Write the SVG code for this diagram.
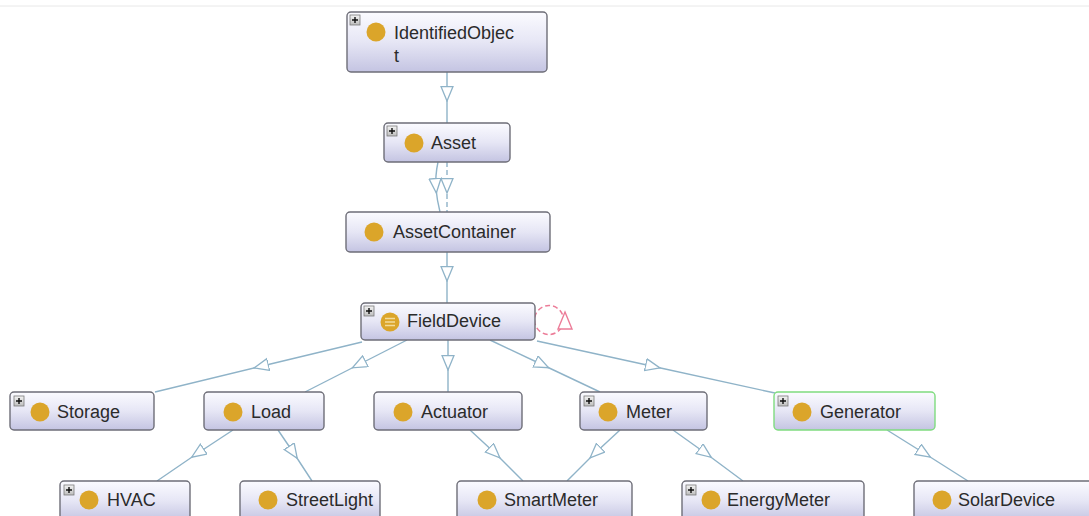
<svg xmlns="http://www.w3.org/2000/svg" xmlns:xlink="http://www.w3.org/1999/xlink" width="1089" height="516" viewBox="0 0 1089 516">
<defs>
<linearGradient id="boxg" x1="0" y1="0" x2="0" y2="1">
<stop offset="0" stop-color="#fbfbff"/>
<stop offset="0.5" stop-color="#e6e6f5"/>
<stop offset="1" stop-color="#c4c4e2"/>
</linearGradient>
<linearGradient id="plusg" x1="0" y1="0" x2="0" y2="1">
<stop offset="0" stop-color="#f4f4f4"/>
<stop offset="1" stop-color="#bdbdbd"/>
</linearGradient>
<marker id="tri" markerUnits="userSpaceOnUse" markerWidth="16" markerHeight="14" refX="11" refY="6.5" orient="auto">
<path d="M0.5,0.5 L15,6.5 L0.5,12.5 z" fill="#ffffff" stroke="#8fb3c8" stroke-width="1.3"/>
</marker>
<g id="plus">
<rect x="0" y="0" width="10" height="10" fill="url(#plusg)" stroke="#7a7a7a" stroke-width="0.8"/>
<path d="M5,2 V8 M2,5 H8" stroke="#111" stroke-width="1.4"/>
</g>
</defs>
<style>
.box{fill:url(#boxg);stroke:#6e6e78;stroke-width:1.4}
.gen{stroke:#7fdc7f}
.dot{fill:#dba52a}
.lbl{font-family:"Liberation Sans",Arial,sans-serif;font-size:18px;fill:#2b2b2b;dominant-baseline:central}
.edge{fill:none;stroke:#8fb3c8;stroke-width:1.4;marker-mid:url(#tri)}
.dash{stroke-dasharray:5,3}
.loop{fill:none;stroke:#ec7c98;stroke-width:1.5;stroke-dasharray:5,3}
</style>
<rect width="1089" height="516" fill="#ffffff"/>
<line x1="0" y1="6" x2="1089" y2="6" stroke="#e8e8e8" stroke-width="1"/>

<g id="connectors">
<path class="edge" d="M447,72 L447,97 L447,123"/>
<path class="edge" d="M438,162 Q435,176 436,189 Q437,200 440,212"/>
<path class="edge dash" d="M447,162 L447,189 L447,212"/>
<path class="edge" d="M447,252 L447,277 L447,303"/>
<path class="edge" d="M362,342 L258,367 L155,392"/>
<path class="edge" d="M407,340 L356,366 L305,392"/>
<path class="edge" d="M448,340 L448,366 L448,392"/>
<path class="edge" d="M490,340 L545,366 L600,392"/>
<path class="edge" d="M537,341 L656,367 L775,393"/>
<path class="edge" d="M233,430 L195,455 L157,481"/>
<path class="edge" d="M278,430 L295,455 L312,481"/>
<path class="edge" d="M470,430 L497,455 L523,481"/>
<path class="edge" d="M620,430 L593,455 L567,481"/>
<path class="edge" d="M673,430 L708,455 L743,481"/>
<path class="edge" d="M887,430 L927,455 L968,481"/>
<circle class="loop" cx="549" cy="320" r="14.5"/>
<path d="M565,312 L572,329 L558,329 z" fill="#ffffff" stroke="#ec7c98" stroke-width="1.4"/>
</g>

<g id="IdentifiedObject">
<rect class="box" x="347" y="12" width="200" height="60" rx="4"/>
<use xlink:href="#plus" x="350" y="15"/>
<circle class="dot" cx="376" cy="32" r="9.5"/>
<text class="lbl" x="394" y="33">IdentifiedObjec</text>
<text class="lbl" x="394" y="56">t</text>
</g>
<g id="Asset">
<rect class="box" x="384" y="123" width="126" height="39" rx="4"/>
<use xlink:href="#plus" x="387" y="126"/>
<circle class="dot" cx="414" cy="143" r="9.5"/>
<text class="lbl" x="431" y="143">Asset</text>
</g>
<g id="AssetContainer">
<rect class="box" x="346" y="212" width="204" height="40" rx="4"/>
<circle class="dot" cx="374" cy="232" r="9.5"/>
<text class="lbl" x="393" y="232">AssetContainer</text>
</g>
<g id="FieldDevice">
<rect class="box" x="361" y="303" width="174" height="37" rx="4"/>
<use xlink:href="#plus" x="364" y="306"/>
<circle class="dot" cx="390" cy="322" r="9.5"/>
<path d="M385,318.5 H395 M385,322 H395 M385,325.5 H395" stroke="#f3dc9a" stroke-width="1.4"/>
<text class="lbl" x="407" y="321">FieldDevice</text>
</g>
<g id="Storage">
<rect class="box" x="10" y="392" width="144" height="38" rx="4"/>
<use xlink:href="#plus" x="14" y="396"/>
<circle class="dot" cx="40" cy="412" r="9.5"/>
<text class="lbl" x="57" y="412">Storage</text>
</g>
<g id="Load">
<rect class="box" x="204" y="392" width="120" height="38" rx="4"/>
<circle class="dot" cx="233" cy="412" r="9.5"/>
<text class="lbl" x="251" y="412">Load</text>
</g>
<g id="Actuator">
<rect class="box" x="374" y="392" width="148" height="38" rx="4"/>
<circle class="dot" cx="403" cy="412" r="9.5"/>
<text class="lbl" x="421" y="412">Actuator</text>
</g>
<g id="Meter">
<rect class="box" x="580" y="392" width="127" height="38" rx="4"/>
<use xlink:href="#plus" x="584" y="396"/>
<circle class="dot" cx="608" cy="412" r="9.5"/>
<text class="lbl" x="626" y="412">Meter</text>
</g>
<g id="Generator">
<rect class="box gen" x="774" y="392" width="161" height="38" rx="4"/>
<use xlink:href="#plus" x="778" y="396"/>
<circle class="dot" cx="802" cy="412" r="9.5"/>
<text class="lbl" x="820" y="412">Generator</text>
</g>
<g id="HVAC">
<rect class="box" x="60" y="481" width="130" height="40" rx="4"/>
<use xlink:href="#plus" x="64" y="485"/>
<circle class="dot" cx="89" cy="500" r="9.5"/>
<text class="lbl" x="107" y="500">HVAC</text>
</g>
<g id="StreetLight">
<rect class="box" x="240" y="481" width="140" height="40" rx="4"/>
<circle class="dot" cx="268" cy="500" r="9.5"/>
<text class="lbl" x="286" y="500">StreetLight</text>
</g>
<g id="SmartMeter">
<rect class="box" x="457" y="481" width="175" height="40" rx="4"/>
<circle class="dot" cx="487" cy="500" r="9.5"/>
<text class="lbl" x="504" y="500">SmartMeter</text>
</g>
<g id="EnergyMeter">
<rect class="box" x="682" y="481" width="182" height="40" rx="4"/>
<use xlink:href="#plus" x="686" y="485"/>
<circle class="dot" cx="711" cy="500" r="9.5"/>
<text class="lbl" x="727" y="500">EnergyMeter</text>
</g>
<g id="SolarDevice">
<rect class="box" x="914" y="481" width="180" height="40" rx="4"/>
<circle class="dot" cx="942" cy="500" r="9.5"/>
<text class="lbl" x="958" y="500">SolarDevice</text>
</g>
</svg>
